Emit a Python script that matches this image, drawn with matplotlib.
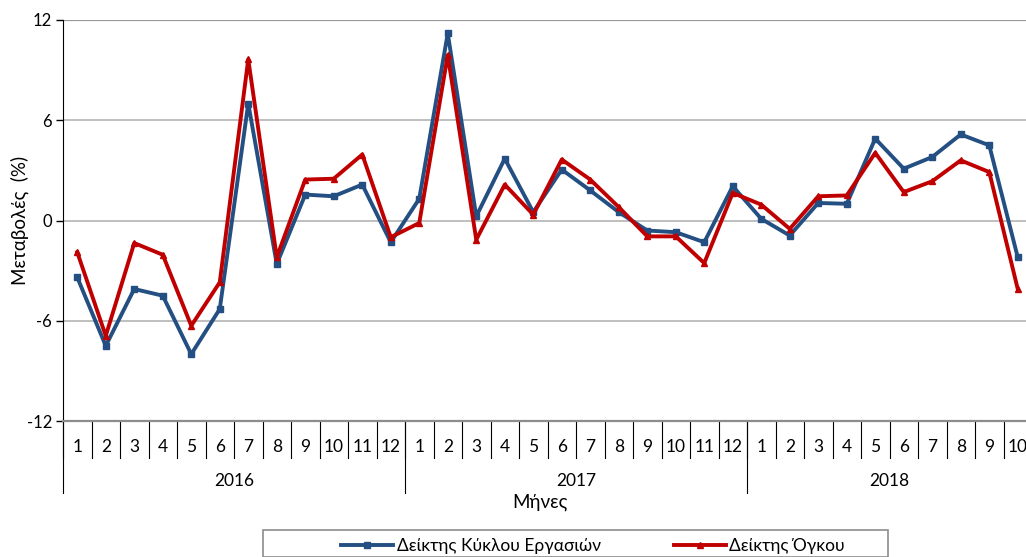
import numpy as np
import matplotlib
matplotlib.use("Agg")
import matplotlib.pyplot as plt
from matplotlib.patches import Rectangle
import matplotlib.transforms as mtransforms

plt.rcParams['font.family'] = ['Lato', 'DejaVu Sans']

years = ["2016", "2017", "2018"]
months_per_year = [12, 12, 10]
month_labels = [str(m) for n in months_per_year for m in range(1, n + 1)]

turnover = [-3.4, -7.5, -4.1, -4.5, -8.0, -5.3, 7.0, -2.6, 1.55, 1.45, 2.15, -1.3,
            1.3, 11.2, 0.25, 3.7, 0.5, 3.05, 1.8, 0.5, -0.6, -0.7, -1.3, 2.05,
            0.1, -0.9, 1.05, 1.0, 4.9, 3.1, 3.8, 5.15, 4.5, -2.2]
volume = [-1.9, -6.9, -1.35, -2.05, -6.3, -3.7, 9.65, -2.2, 2.45, 2.5, 3.95, -1.0,
          -0.15, 9.9, -1.15, 2.15, 0.35, 3.65, 2.45, 0.8, -0.95, -0.95, -2.55, 1.65,
          0.95, -0.5, 1.45, 1.5, 4.05, 1.7, 2.35, 3.6, 2.9, -4.1]

names = ["Δείκτης Κύκλου Εργασιών", "Δείκτης Όγκου"]
blue = "#234F82"
red = "#C00000"

W, H = 1026, 557
fig = plt.figure(figsize=(W / 100, H / 100), dpi=100)
ax_left, ax_top, ax_bot = 63, 20, 421
n = len(month_labels)
step = 28.5
ax = fig.add_axes([ax_left / W, (H - ax_bot) / H, n * step / W, (ax_bot - ax_top) / H])

x = np.arange(n)
ax.plot(x, turnover, color=blue, lw=2.8, marker="s", ms=5, label=names[0], zorder=3)
ax.plot(x, volume, color=red, lw=2.8, marker="^", ms=4.5, label=names[1], zorder=3)

ax.set_xlim(-0.5, n - 0.5)
ax.set_ylim(-12, 12)
ax.set_yticks([-12, -6, 0, 6, 12])
ax.set_yticklabels(["-12", "-6", "0", "6", "12"], fontsize=12)
ax.tick_params(axis="y", length=5, width=1, pad=3)
for v in [-6, 0, 6]:
    ax.axhline(v, color="#B4B4B4", lw=1.2, zorder=1)
ax.axhline(12, color="#9A9A9A", lw=1.6, zorder=1)
for s in ["top", "right"]:
    ax.spines[s].set_visible(False)
ax.spines["left"].set_color("black")
ax.spines["bottom"].set_color("#8C8C8C")
ax.spines["bottom"].set_linewidth(1.6)
ax.set_xticks([])

trans = mtransforms.blended_transform_factory(ax.transData, ax.transAxes)
h_ax = ax_bot - ax_top
for i, lab in enumerate(month_labels):
    ax.text(i, -(447 - ax_bot) / h_ax, lab, transform=trans, ha="center", va="center", fontsize=12.5)
for i in range(n + 1):
    ax.plot([i - 0.5, i - 0.5], [0, -(458 - ax_bot) / h_ax], transform=trans,
            color="black", lw=0.8, clip_on=False)
start = 0
for yr, cnt in zip(years, months_per_year):
    ax.plot([start - 0.5, start - 0.5], [0, -(493 - ax_bot) / h_ax], transform=trans,
            color="black", lw=0.8, clip_on=False)
    ax.text(start + cnt / 2 - 0.5, -(481 - ax_bot) / h_ax, yr, transform=trans,
            ha="center", va="center", fontsize=12.5)
    start += cnt

fig.text(540 / W, 1 - 502 / H, "Μήνες", ha="center", va="center", fontsize=13.5)
fig.text(20 / W, 1 - 220 / H, "Μεταβολές  (%)", ha="center", va="center",
         rotation=90, fontsize=13.5)

fig.patches.append(Rectangle((263 / W, 0), (888 - 263) / W, (557 - 530) / H,
                             transform=fig.transFigure, fill=False,
                             edgecolor="#8C8C8C", lw=1.2))
fig.legend(loc="center", bbox_to_anchor=(0.578, 1 - 546 / H), ncol=2, frameon=False,
           fontsize=12.5, handlelength=3, columnspacing=4.2, handletextpad=0.2,
           markerscale=1)

fig.savefig("out.png", dpi=100)
